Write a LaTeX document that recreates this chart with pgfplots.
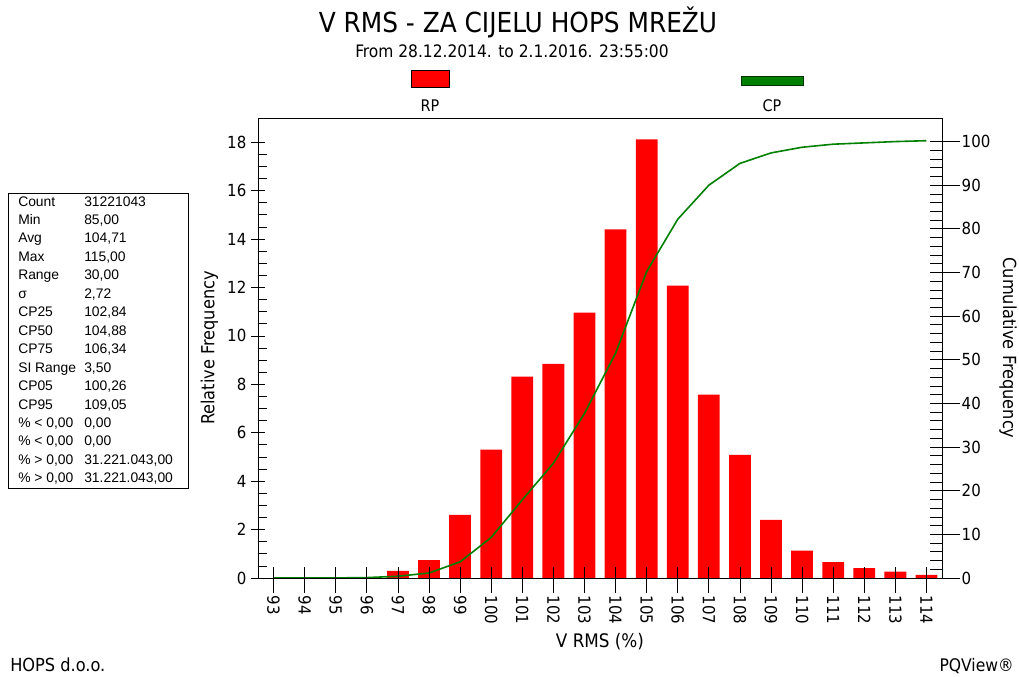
\documentclass[border=0pt]{standalone}
\usepackage{pgfplots}
\pgfplotsset{compat=1.18}
\usepackage{fontspec}
\setmainfont{DejaVu Sans Condensed}
\newfontfamily\arial{Liberation Sans}
\definecolor{pqred}{RGB}{255,0,0}
\definecolor{pqgreen}{RGB}{0,128,0}
\begin{document}
\begin{tikzpicture}[x=0.75pt,y=-0.75pt]
\useasboundingbox (0,0) rectangle (1019,676);
% titles
\node[anchor=base, font=\fontsize{20.7}{24}\selectfont, inner sep=0pt] at (518,32) {V RMS - ZA CIJELU HOPS MREŽU};
\node[anchor=base, font=\fontsize{12.9}{15}\selectfont, inner sep=0pt] at (512,57) {From 28.12.2014. to 2.1.2016. 23:55:00};
% legend
\draw[black, line width=0.5pt, fill=pqred] (411,70) rectangle (449,87);
\node[anchor=base, font=\fontsize{12}{14}\selectfont, inner sep=0pt] at (430,111) {RP};
\draw[black!60!pqgreen, line width=0.5pt, fill=pqgreen] (741,76) rectangle (803,85);
\node[anchor=base, font=\fontsize{12}{14}\selectfont, inner sep=0pt] at (772,111) {CP};
% stats box
\draw[black, line width=0.75pt] (8,193) rectangle (188,488);
\begin{scope}[every node/.style={anchor=base west, inner sep=0pt, font=\arial\fontsize{10.4}{12}\selectfont}]
\node at (18,206.0) {Count};    \node at (84,206.0) {31221043};
\node at (18,224.5) {Min};      \node at (84,224.5) {85,00};
\node at (18,242.9) {Avg};      \node at (84,242.9) {104,71};
\node at (18,261.4) {Max};      \node at (84,261.4) {115,00};
\node at (18,279.8) {Range};    \node at (84,279.8) {30,00};
\node at (18,298.3) {σ};        \node at (84,298.3) {2,72};
\node at (18,316.7) {CP25};     \node at (84,316.7) {102,84};
\node at (18,335.2) {CP50};     \node at (84,335.2) {104,88};
\node at (18,353.6) {CP75};     \node at (84,353.6) {106,34};
\node at (18,372.1) {SI Range}; \node at (84,372.1) {3,50};
\node at (18,390.5) {CP05};     \node at (84,390.5) {100,26};
\node at (18,409.0) {CP95};     \node at (84,409.0) {109,05};
\node at (18,427.4) {\% < 0,00}; \node at (84,427.4) {0,00};
\node at (18,445.9) {\% < 0,00}; \node at (84,445.9) {0,00};
\node at (18,464.3) {\% > 0,00}; \node at (84,464.3) {31.221.043,00};
\node at (18,482.8) {\% > 0,00}; \node at (84,482.8) {31.221.043,00};
\end{scope}
% footer
\node[anchor=base west, inner sep=0pt, font=\fontsize{13.5}{16}\selectfont] at (10,671) {HOPS d.o.o.};
\node[anchor=base east, inner sep=0pt, font=\fontsize{13}{16}\selectfont] at (1014,671) {PQView®};

% bars + left axis
\begin{axis}[
  at={(193.5pt,-433.5pt)}, anchor=south west, scale only axis,
  width=513pt, height=345pt,
  xmin=92.5, xmax=114.5, ymin=0, ymax=19,
  xtick=\empty,
  ytick={0,2,...,18}, minor y tick num=3, ytick pos=left,
  tick align=center, major tick length=10.5pt, minor tick length=6.75pt,
  every minor tick/.append style={xshift=3.375pt},
  every tick/.append style={black, line width=0.6pt},
  axis line style={black, line width=0.75pt},
  ybar, bar width=0.7,
  tick label style={font=\fontsize{12.5}{15}\selectfont},
  /pgf/number format/assume math mode=true,
  ylabel={Relative Frequency},
  ylabel style={font=\fontsize{13.5}{16}\selectfont},
]
\addplot[fill=pqred, draw=none] coordinates {
(96,0.04) (97,0.29) (98,0.74) (99,2.61) (100,5.30) (101,8.32) (102,8.85)
(103,10.96) (104,14.40) (105,18.12) (106,12.08) (107,7.57) (108,5.09)
(109,2.40) (110,1.13) (111,0.66) (112,0.41) (113,0.26) (114,0.13)};
\end{axis}

% cumulative line + right axis
\begin{axis}[
  at={(193.5pt,-433.5pt)}, anchor=south west, scale only axis,
  width=513pt, height=345pt,
  xmin=92.5, xmax=114.5, ymin=0, ymax=105.4,
  axis x line=none, axis y line*=right,
  axis line style={-, black, line width=0.75pt},
  ytick={0,10,...,100}, minor y tick num=4,
  tick align=center, major tick length=22.5pt, minor tick length=9pt,
  every major tick/.append style={xshift=2.25pt},
  every minor tick/.append style={xshift=-4.5pt},
  every tick/.append style={black, line width=0.6pt},
  tick label style={font=\fontsize{12.5}{15}\selectfont},
  /pgf/number format/assume math mode=true,
  ylabel={Cumulative Frequency},
  ylabel style={rotate=180, font=\fontsize{13.5}{16}\selectfont},
]
\addplot[pqgreen, line width=1.2pt] coordinates {
(93,0) (94,0) (95,0.02) (96,0.1) (97,0.4) (98,1.15) (99,3.7) (100,9.3)
(101,17.9) (102,26.3) (103,37.7) (104,51.5) (105,70.2) (106,82.2)
(107,90.0) (108,95.0) (109,97.4) (110,98.7) (111,99.4) (112,99.7)
(113,100.0) (114,100.2)};
\end{axis}

% x ticks and labels
\begin{axis}[
  at={(193.5pt,-433.5pt)}, anchor=south west, scale only axis,
  width=513pt, height=345pt,
  xmin=92.5, xmax=114.5, ymin=0, ymax=19,
  axis y line=none, axis x line*=bottom,
  axis line style={-, black, line width=0.75pt},
  xtick={93,...,114},
  tick align=center, major tick length=19.5pt,
  every major tick/.append style={yshift=-1.5pt},
  every tick/.append style={black, line width=0.6pt},
  xticklabel style={rotate=-90, anchor=west, font=\fontsize{12.5}{15}\selectfont},
  /pgf/number format/assume math mode=true,
  xlabel={V RMS (\%)},
  xlabel style={font=\fontsize{14}{17}\selectfont},
]
\addplot[draw=none] coordinates {(93,0) (114,0)};
\end{axis}
\end{tikzpicture}
\end{document}
